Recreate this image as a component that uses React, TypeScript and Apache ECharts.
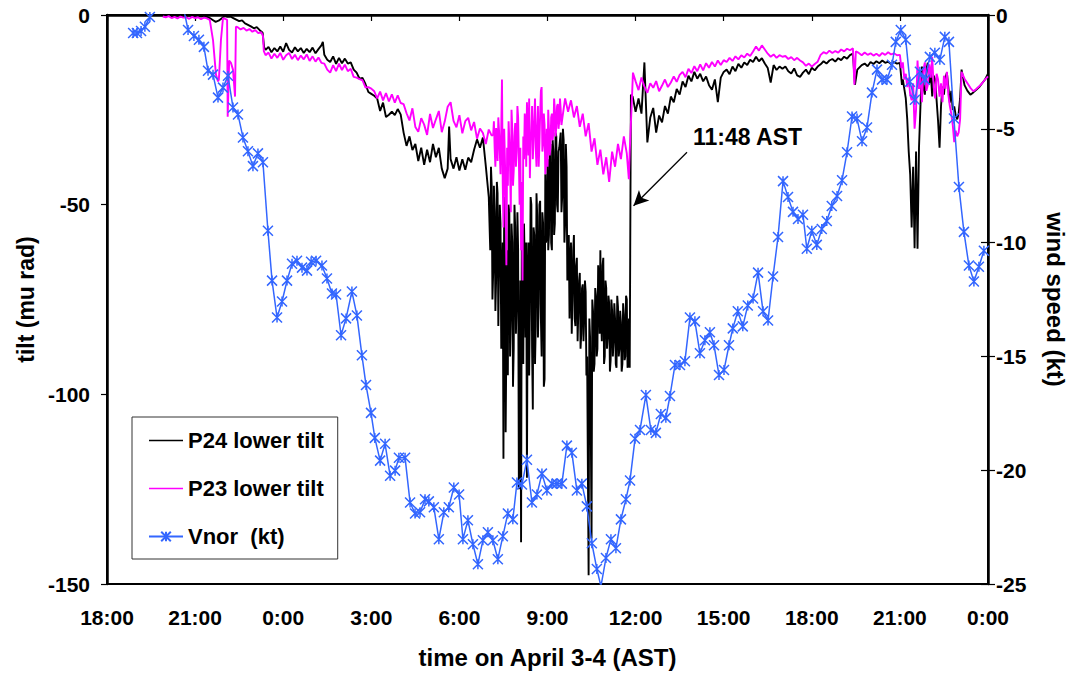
import React, { useEffect, useRef } from "react";
import * as echarts from "echarts";

// ---------- x axis (hours after 18:00 on April 3) ----------
const xTickHours = [0, 3, 6, 9, 12, 15, 18, 21, 24, 27, 30];
const tiltTicks = [0, -50, -100, -150];
const windTicks = [0, -5, -10, -15, -20, -25];

// ---------- Vnor (kt), 10-min samples ----------
const vnorHours = [0.89,1.02,1.16,1.29,1.46,1.57,1.74,1.91,2.08,2.25,2.42,2.59,2.76,2.96,3.13,3.30,3.44,3.61,3.78,3.95,4.12,4.29,4.46,4.63,4.80,4.97,5.14,5.31,5.48,5.62,5.79,5.96,6.13,6.30,6.47,6.64,6.81,6.95,7.12,7.32,7.49,7.66,7.80,7.97,8.14,8.34,8.51,8.68,8.82,8.99,9.12,9.30,9.47,9.64,9.81,9.94,10.15,10.32,10.49,10.66,10.83,10.96,11.13,11.30,11.47,11.64,11.81,11.99,12.12,12.29,12.46,12.63,12.80,12.97,13.14,13.31,13.48,13.65,13.82,13.96,14.13,14.30,14.47,14.64,14.81,14.98,15.15,15.32,15.49,15.66,15.83,16.00,16.17,16.34,16.51,16.68,16.82,16.99,17.16,17.33,17.50,17.67,17.81,17.98,18.15,18.35,18.52,18.69,18.86,19.03,19.17,19.34,19.51,19.68,19.85,20.02,20.19,20.36,20.53,20.67,20.84,21.01,21.18,21.31,21.48,21.65,21.82,22.00,22.17,22.34,22.51,22.68,22.85,23.02,23.19,23.36,23.53,23.70,23.83,24.00,24.17,24.34,24.51,24.68,24.86,25.03,25.20,25.37,25.54,25.71,25.88,26.05,26.22,26.39,26.56,26.73,26.86,27.03,27.20,27.34,27.51,27.68,27.85,28.02,28.19,28.36,28.53,28.67,28.84,29.01,29.18,29.35,29.52,29.69,29.86];
const vnorKt = [-0.79,-0.79,-0.70,-0.52,-0.09,0.1,0.6,0.8,0.7,0.9,0.6,0.4,-0.66,-0.92,-1.09,-1.40,-2.45,-2.62,-3.63,-3.19,-2.67,-4.06,-4.37,-5.38,-5.99,-6.64,-6.08,-6.47,-9.48,-11.67,-13.29,-12.59,-11.67,-10.93,-10.80,-11.10,-11.23,-10.84,-10.80,-11.01,-11.58,-12.24,-12.28,-14.07,-13.33,-12.15,-13.20,-14.95,-16.26,-17.48,-18.58,-19.58,-18.84,-20.24,-20.02,-19.45,-19.45,-21.42,-21.90,-21.85,-21.28,-21.37,-21.63,-23.03,-21.85,-21.63,-20.76,-21.07,-23.03,-22.20,-23.25,-24.13,-23.08,-22.73,-23.08,-23.91,-22.90,-21.90,-22.16,-20.54,-20.63,-19.54,-21.42,-21.07,-20.15,-20.89,-20.59,-20.59,-20.59,-18.92,-19.23,-20.89,-20.59,-21.59,-23.21,-24.34,-25.1,-23.86,-23.03,-23.43,-22.16,-21.28,-20.45,-18.62,-18.23,-16.70,-18.23,-18.36,-17.53,-17.70,-16.74,-15.38,-15.38,-15.21,-13.29,-13.46,-14.86,-14.29,-13.94,-14.51,-15.82,-15.60,-14.51,-13.77,-13.02,-13.68,-12.76,-12.46,-11.32,-13.02,-13.42,-11.49,-9.75,-7.30,-8.00,-8.65,-8.96,-8.78,-10.27,-9.48,-10.10,-9.40,-9.05,-8.39,-7.95,-7.26,-6.03,-4.46,-4.55,-5.55,-4.94,-3.41,-2.40,-2.84,-2.84,-2.19,-1.18,-0.66,-1.09,-2.93,-3.72,-2.49,-2.84,-1.84,-1.66,-1.97,-0.96,-1.18,-4.55,-7.56,-9.53,-11.01,-11.71,-11.06,-10.36];

// ---------- P24 lower tilt (mu rad) ----------
const p24A = [-0.2,-0.1,-0.3,-0.2,-0.1,-0.4,-0.2,-0.3,-0.1,-0.2,-0.3,-0.2,-0.4,-0.3,-0.5,-0.8];
const p24B = [-1.3,-1.8,-1.5,-0.9,-0.3,-0.5,-0.4,-0.8,-1.2,-1.6,-1.4,-2.2,-2.6,-3.0,-3.5,-3.2,-4.0];
const p24Step1: [number, number][] = [[5.3,-4.7],[5.35,-8.5]];
const p24C = [-9.2,-8.4,-9.8,-8.7,-9.6,-8.3,-9.7,-7.4,-9.2,-9.9,-8.5,-9.6,-8.7,-10.0,-8.9,-9.8,-8.6,-10.1,-9.0,-8.0];
const p24Spike1: [number, number][] = [[7.35,-7.1]];
const p24D = [-10.5,-11.8,-12.4,-10.9,-12.9,-11.3,-12.7,-11.5,-12.8,-12.5,-14.4,-15.2,-16.8,-16.6,-18.2,-20.3,-20.8,-21.3,-22.0,-25.3,-23.1,-26.9,-26.3,-25.5,-26.4,-24.8,-26.2,-31.0,-34.5,-32.0,-35.6,-34.0,-38.5,-35.0,-39.5,-35.5,-38.8,-34.0,-37.5,-35.0,-40.5,-43.0,-40.5];
const p24Spike2: [number, number][] = [[11.65,-29.4]];
const p24E = [-38.0,-40.5,-37.5,-41.0,-38.0,-40.8,-37.6,-38.8,-35.5,-32.8,-35.0,-32.3,-39.9];
const p24Storm1 = [-48,-55,-62,-40,-45,-75,-68,-45,-52,-78,-70,-44,-47,-82,-66,-50,-55,-88,-72,-60,-117,-48,-58,-110,-85,-62,-95,-50,-52,-90,-80,-55,-60,-98,-88,-50,-56,-84,-75,-52,-62,-125,-100,-70,-139,-58,-70,-92,-55,-66,-85,-60,-122,-70,-60,-95,-78,-48,-50,-88,-104,-56,-58,-92,-82,-47,-53,-85,-76,-50,-49,-80,-90,-52,-55,-98,-96,-42,-60,-58,-38,-62,-58,-35,-34,-60,-62,-33,-36,-58,-55,-31,-32,-50,-52,-36,-35];
const p24Storm2 = [-31,-52,-48,-30,-33,-60,-55,-34,-40,-70,-62,-58,-80,-66,-60,-84,-75,-62,-58,-80,-82,-66,-64,-86,-78,-70,-68,-88,-84,-72,-71,-86,-80,-70,-73,-95,-90,-120,-147.7,-80,-85,-110,-138,-75,-78,-94,-92,-72,-74,-90,-88,-66,-70,-84,-62,-80,-86,-66,-64,-92,-90,-70,-72,-88,-85,-74,-76,-94,-91,-75,-78,-90,-86,-76,-80,-92,-93,-74,-77,-90,-88,-78,-81,-94,-92,-76,-79,-91,-90,-74,-75,-93,-92,-80,-93];
const p24Jump: [number, number][] = [[17.84,-21.0]];
const p24F = [-21.5,-25.5,-22.0,-26.0,-12.5,-33.6,-27.0,-24.5,-31.0,-26.5,-28.3,-24.0,-26.0,-21.5,-23.0,-19.5,-21.0,-17.5,-19.0,-16.0,-17.5,-15.0,-16.8,-15.5,-17.5,-16.2,-18.5,-19.7,-17.0,-23.0,-16.5,-15.0];
const p24G = [-14.4,-15.6,-13.6,-14.8,-12.9,-13.9,-12.5,-13.2,-11.8,-12.4,-11.0,-12.2,-11.4,-12.8,-14.0,-17.8,-13.2,-14.5,-13.6,-14.2,-13.6,-14.8,-15.4,-14.1,-15.9,-16.3,-15.2,-14.4,-15.6,-13.9,-14.6,-13.6,-13.0,-12.2,-12.8,-12.0,-11.6,-12.3,-11.4,-11.9,-11.0,-11.5,-10.6,-10.2];
const p24Dip1: [number, number][] = [[25.47,-18.4],[25.55,-14.4]];
const p24H = [-14.0,-13.2,-12.8,-13.5,-12.4,-12.9,-12.2,-12.7,-12.0,-12.6,-12.3,-12.9,-12.4,-12.8,-12.6];
const p24Dip2: [number, number][] = [[27.07,-18.4]];
const p24Storm3 = [-17.0,-19.5,-22.0,-27.5,-36.0,-42.0,-56.0,-40.0,-61.5,-36.0,-61.6,-35.0,-24.0,-13.6,-19.0,-21.0,-14.5,-12.6,-18.0,-15.0,-21.5,-16.0,-17.0,-22.5,-28.0,-35.0,-24.0,-18.9,-21.0,-16.5,-15.2,-19.0,-23.1,-20.0,-25.0,-24.1,-26.5,-27.5,-26.0,-22.0,-14.4];
const p24I = [-18.5,-20.0,-21.0,-20.4,-19.7,-19.0,-18.0,-17.0,-15.5];

// ---------- P23 lower tilt (mu rad) ----------
const p23A = [-0.4,-0.6,-0.3,-0.8,-0.5,-0.9,-0.4,-0.7,-0.6,-1.0,-0.5,-0.8,-0.6,-1.1,-0.7,-0.9,-1.3];
const p23Spikes: [number, number][] = [[3.61,-6.6],[3.71,-15.7],[3.78,-17.5],[3.81,-17.0],[3.88,-6.6],[3.95,-0.8],[4.02,-1.0],[4.09,-1.3],[4.11,-26.8],[4.16,-12.0],[4.22,-12.6],[4.29,-14.4],[4.36,-21.5],[4.39,-3.1]];
const p23B = [-3.2,-3.8,-3.4,-4.1,-3.7,-4.4,-4.0,-4.8,-4.5];
const p23Step1: [number, number][] = [[5.31,-5.5],[5.34,-9.5]];
const p23C = [-10.6,-9.9,-11.5,-10.2,-11.3,-10.0,-11.8,-10.6,-10.0,-11.6,-10.5,-11.9,-10.7,-11.7,-10.4,-12.1,-10.9,-12.3,-11.2,-12.6,-12.8,-14.4,-15.2,-13.2,-14.8,-12.8,-14.5,-13.1,-14.8,-14.2,-16.3,-16.5,-16.9,-17.2,-19.1,-19.0,-19.4,-20.1,-22.0,-20.2,-22.5,-20.6,-22.8,-20.9,-23.1,-21.2,-23.2,-23.5,-25.9,-27.8,-24.6,-29.5,-30.8,-27.2,-28.9,-31.6,-26.1,-29.8,-27.5,-25.3,-30.9,-28.1,-24.2,-23.0,-27.9,-29.6,-26.4,-31.2,-28.0,-27.1,-30.4,-28.2,-32.6,-29.9,-31.1,-34.0,-30.2,-31.8];
const p23Storm1 = [-31.5,-28,-35,-40,-29.8,-33,-38.5,-27,-30.5,-36,-42,-30,-17,-44,-56,-30,-38,-48,-66,-35,-45,-28,-33,-40,-52,-25,-30,-45,-41,-32,-28.5,-40,-36,-24,-27,-38,-50,-35,-62,-44,-70,-32,-38,-26,-29,-40,-23,-30,-37,-22,-43,-33,-31,-24,-38,-33,-27.5,-22,-35,-40,-30,-24,-40,-34,-26,-20,-19,-36,-34,-26,-29,-42,-38,-30,-40,-25,-30,-37,-35,-27,-26,-33,-31,-22,-25,-32,-29.5,-24,-23.5,-30,-28,-22,-25,-29,-27.5];
const p23D = [-22.0,-25.5,-22.5,-27.0,-24.0,-29.5,-26.0,-32.0,-28.5,-36.0,-32.5,-39.5,-35.5,-42.0,-37.5,-44.0,-36.0,-40.0,-34.0,-38.0,-32.0,-36.5];
const p23Jump: [number, number][] = [[17.77,-43.3],[17.80,-36.0],[17.87,-23.0],[17.91,-15.2]];
const p23E = [-17.5,-19.8,-16.5,-18.9,-20.5,-18.0,-19.2,-17.4,-20.1,-18.6,-17.0,-19.0,-17.8,-16.2,-17.6,-15.8,-15.0,-16.4,-14.2,-15.3,-13.5,-14.8,-13.0,-14.6,-12.7,-13.9,-12.4,-13.6,-12.0,-13.2,-11.9,-12.4,-11.3,-12.1,-10.9,-11.7,-10.6,-11.2,-10.2,-10.8,-9.6,-8.3,-9.4,-8.0,-9.1,-10.2,-11.0,-10.4,-11.3,-10.6,-11.0,-10.8,-11.6,-11.1,-11.9,-11.3,-12.0,-12.5,-13.4,-12.8,-13.6,-12.9,-12.3,-10.5,-9.8,-10.2,-9.4,-10.0,-9.5,-9.9,-9.1,-9.6,-8.9,-9.3,-8.8];
const p23Dip1: [number, number][] = [[25.45,-18.4],[25.5,-9.6]];
const p23F = [-10.0,-10.6,-9.9,-10.5,-10.1,-10.7,-10.2,-10.8,-10.0,-10.5,-9.8,-10.4,-10.1,-10.6];
const p23Storm2 = [-10.5,-14.0,-12.5,-17.0,-15.5,-19.0,-16.5,-21.0,-22.5,-18.0,-30.0,-25.0,-12.0,-19.5,-16.0,-23.0,-14.5,-12.5,-20.0,-18.5,-13.0,-16.5,-11.0,-19.0,-22.0,-15.5,-17.0,-21.5,-18.0,-23.0,-16.0,-19.5,-15.0,-21.0,-24.0,-26.0,-29.0,-33.5,-30.5,-32.0,-31.0,-27.5];
const p23Jump2: [number, number][] = [[29.1,-15.0]];
const p23G = [-16.8,-18.0,-19.2,-20.1,-19.5,-18.8,-18.0,-17.0,-16.2];

// sampled segment: start hour, sampling step (hours), values
function seg(t0: number, dt: number, vals: number[]): [number, number][] {
  return vals.map((v, i) => [Math.round((t0 + i * dt) * 1000) / 1000, v]);
}

const p24Data = [
  ...seg(2.0, 0.1, p24A), ...seg(3.6, 0.1, p24B), ...p24Step1,
  ...seg(5.4, 0.1, p24C), ...p24Spike1, ...seg(7.4, 0.1, p24D), ...p24Spike2,
  ...seg(11.7, 0.1, p24E), ...seg(13.0, 0.025, p24Storm1), ...seg(15.45, 0.025, p24Storm2),
  ...p24Jump, ...seg(17.9, 0.1, p24F), ...seg(21.1, 0.1, p24G), ...p24Dip1,
  ...seg(25.6, 0.1, p24H), ...p24Dip2, ...seg(27.1, 0.05, p24Storm3), ...seg(29.2, 0.1, p24I),
];
const p23Data = [
  ...seg(1.9, 0.1, p23A), ...p23Spikes, ...seg(4.45, 0.1, p23B), ...p23Step1,
  ...seg(5.4, 0.1, p23C), ...seg(13.15, 0.025, p23Storm1), ...seg(15.6, 0.1, p23D),
  ...p23Jump, ...seg(18.0, 0.1, p23E), ...p23Dip1, ...seg(25.6, 0.1, p23F),
  ...seg(27.0, 0.05, p23Storm2), ...p23Jump2, ...seg(29.2, 0.1, p23G),
];
const vnorData = vnorHours.map((h, i) => [h, vnorKt[i]]);

const FONT = "Arial, 'Liberation Sans', Helvetica, sans-serif";
const STAR = "path://M0,0L10,10M10,0L0,10M5,0L5,10";
const LINE_ICON = "path://M0,0H34V1.6H0Z";

function hourLabel(v: number) {
  const h = (18 + Math.round(v)) % 24;
  return `${h}:00`;
}

export default function App() {
  const ref = useRef<HTMLDivElement>(null);
  useEffect(() => {
    if (!ref.current) return;
    const chart = echarts.init(ref.current, undefined, { renderer: "svg" });
    const axisLabelStyle = { color: "#000", fontSize: 21, fontWeight: "bold" as const, fontFamily: FONT };
    chart.setOption({
      animation: false,
      backgroundColor: "#fff",
      textStyle: { fontFamily: FONT },
      grid: { left: 107, right: 89, top: 15, bottom: 87, show: true, borderColor: "#000", borderWidth: 2, backgroundColor: "transparent" },
      legend: {
        orient: "vertical",
        left: 132,
        top: 417,
        padding: [11, 14, 10, 16],
        itemWidth: 34,
        itemHeight: 12,
        itemGap: 23,
        borderColor: "#333",
        borderWidth: 1,
        backgroundColor: "#fff",
        textStyle: { color: "#000", fontSize: 22, fontWeight: "bold", fontFamily: FONT, lineHeight: 25 },
        data: [
          { name: "P24 lower tilt", icon: LINE_ICON },
          { name: "P23 lower tilt", icon: LINE_ICON },
          { name: "Vnor  (kt)" },
        ],
      },
      xAxis: {
        type: "value",
        min: xTickHours[0],
        max: xTickHours[xTickHours.length - 1],
        interval: 3,
        name: "time on April 3-4 (AST)",
        nameLocation: "middle",
        nameGap: 61,
        nameTextStyle: { color: "#000", fontSize: 24, fontWeight: "bold", fontFamily: FONT },
        axisLine: { lineStyle: { color: "#000", width: 2.5 } },
        axisTick: { length: 6, lineStyle: { color: "#000", width: 1.2 } },
        axisLabel: { ...axisLabelStyle, margin: 23, formatter: hourLabel },
        splitLine: { show: false },
      },
      yAxis: [
        {
          type: "value",
          position: "left",
          min: tiltTicks[tiltTicks.length - 1],
          max: tiltTicks[0],
          interval: 50,
          name: "tilt (mu rad)",
          nameLocation: "middle",
          nameRotate: 90,
          nameGap: 67,
          nameTextStyle: { color: "#000", fontSize: 23, fontWeight: "bold", fontFamily: FONT },
          axisLine: { show: true, lineStyle: { color: "#000", width: 2.5 } },
          axisTick: { show: true, length: 6, lineStyle: { color: "#000", width: 1.2 } },
          axisLabel: { ...axisLabelStyle, margin: 17 },
          splitLine: { show: false },
        },
        {
          type: "value",
          position: "right",
          min: windTicks[windTicks.length - 1],
          max: windTicks[0],
          interval: 5,
          name: "wind speed (kt)",
          nameLocation: "middle",
          nameRotate: -90,
          nameGap: 55,
          nameTextStyle: { color: "#000", fontSize: 24, fontWeight: "bold", fontFamily: FONT },
          axisLine: { show: true, lineStyle: { color: "#000", width: 2.5 } },
          axisTick: { show: true, length: 7, lineStyle: { color: "#000", width: 1.2 } },
          axisLabel: { ...axisLabelStyle, margin: 8 },
          splitLine: { show: false },
        },
        {
          type: "value",
          position: "right",
          min: windTicks[windTicks.length - 1],
          max: windTicks[0],
          interval: 5,
          axisLine: { show: false },
          axisTick: { show: true, inside: true, length: 7, lineStyle: { color: "#000", width: 1.2 } },
          axisLabel: { show: false },
          splitLine: { show: false },
        },
      ],
      series: [
        {
          name: "P24 lower tilt",
          type: "line",
          yAxisIndex: 0,
          data: p24Data,
          symbol: "none",
          lineStyle: { color: "#000", width: 1.9 },
          itemStyle: { color: "#000" },
          markLine: {
            silent: true,
            symbol: ["none", "arrow"],
            symbolSize: [11, 15],
            label: { show: false },
            lineStyle: { color: "#000", width: 1.3, type: "solid" },
            data: [[{ coord: [19.75, -36.2] }, { coord: [17.93, -50.3] }]],
          },
        },
        {
          name: "P23 lower tilt",
          type: "line",
          yAxisIndex: 0,
          data: p23Data,
          symbol: "none",
          lineStyle: { color: "#FF00FF", width: 1.9 },
          itemStyle: { color: "#FF00FF" },
        },
        {
          name: "Vnor  (kt)",
          type: "line",
          yAxisIndex: 1,
          data: vnorData,
          symbol: STAR,
          symbolSize: [10, 10],
          showSymbol: true,
          lineStyle: { color: "#3366FF", width: 1.5 },
          itemStyle: { color: "#3366FF", borderColor: "#3366FF", borderWidth: 1.5 },
        },
      ],
      graphic: [
        {
          type: "text",
          left: 693,
          top: 125,
          style: { text: "11:48 AST", fill: "#000", font: `bold 23px ${FONT}` },
        },
      ],
    });
    return () => chart.dispose();
  }, []);
  return <div ref={ref} style={{ width: 1077, height: 674, position: "absolute", left: 0, top: 0 }} />;
}
